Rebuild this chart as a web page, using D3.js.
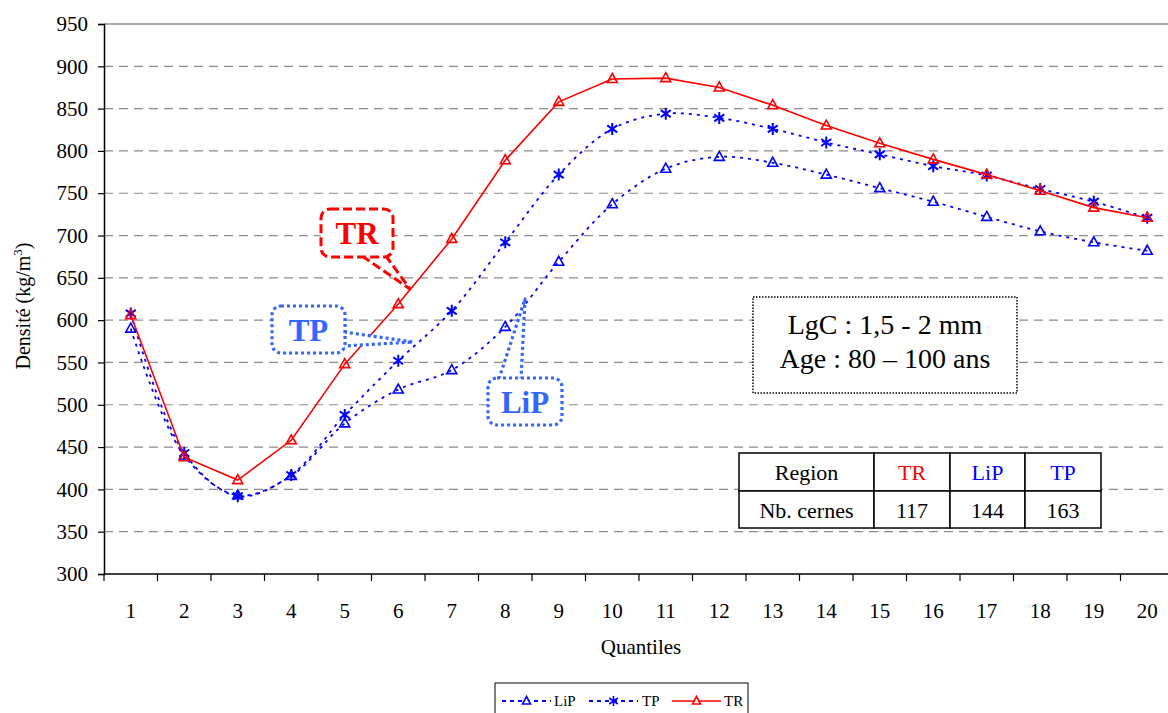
<!DOCTYPE html>
<html>
<head>
<meta charset="utf-8">
<script src="https://cdn.jsdelivr.net/npm/d3@7"></script>
<style>
  html, body { margin: 0; padding: 0; background: #fff; }
  svg text { font-family: 'Liberation Serif', 'Times New Roman', Tinos, 'DejaVu Serif', serif !important; }
</style>
</head>
<body>
<svg id="chart" width="1168" height="713"></svg>
<script>
// ---- Data ----
const categories = ["1","2","3","4","5","6","7","8","9","10","11","12","13","14","15","16","17","18","19","20"];
const seriesLiP = [590, 440, 393, 416, 478, 518, 541, 592, 669, 737, 779, 793, 786, 772, 756, 740, 722, 705, 692, 682];
const seriesTP  = [608, 443, 392, 417, 488, 552, 611, 692, 772, 826, 844, 839, 826, 810, 796, 782, 771, 755, 740, 721];
const seriesTR  = [606, 438, 411, 458, 548, 619, 696, 789, 858, 885, 886, 875, 854, 830, 809, 790, 772, 753, 733, 721];
const yTicks = [300, 350, 400, 450, 500, 550, 600, 650, 700, 750, 800, 850, 900, 950];
const tableHeader = ["Region", "TR", "LiP", "TP"];
const tableRow = ["Nb. cernes", "117", "144", "163"];
const infoLines = ["LgC : 1,5 - 2 mm", "Age : 80 \u2013 100 ans"];

const RED = "#FF0000", BLUE = "#0000FF", CALLBLUE = "#3366FF";
const FONT = "'Liberation Serif', 'Times New Roman', Tinos, 'DejaVu Serif', serif";

const svg = d3.select("#chart").attr("font-family", FONT);
const L = 104, R = 1174, T = 24, B = 574, PR = 1168;

const x = d3.scaleBand().domain(categories).range([L, R]);
const y = d3.scaleLinear().domain([300, 950]).range([B, T]);
const cx = c => x(c) + x.bandwidth() / 2;

// gridlines
svg.append("g").selectAll("line").data(yTicks.filter(v => v > 300 && v < 950)).join("line")
  .attr("x1", L).attr("x2", PR).attr("y1", d => y(d)).attr("y2", d => y(d))
  .attr("stroke", "#8c8c8c").attr("stroke-width", 1.2).attr("stroke-dasharray", "9,6");
// top border
svg.append("line").attr("x1", L).attr("x2", PR).attr("y1", y(950)).attr("y2", y(950))
  .attr("stroke", "#8c8c8c").attr("stroke-width", 1.5);

// Y axis
const yAxis = svg.append("g").attr("transform", `translate(${L},0)`)
  .call(d3.axisLeft(y).tickValues(yTicks).tickSize(6).tickPadding(10).tickFormat(d3.format("d")));
yAxis.attr("font-family", FONT);
yAxis.select(".domain").attr("stroke", "#000").attr("stroke-width", 1.5);
yAxis.selectAll(".tick line").attr("stroke", "#000").attr("stroke-width", 1.2);
yAxis.selectAll("text").attr("font-size", 21).attr("fill", "#000");

// X axis: labels
const xAxis = svg.append("g").attr("transform", `translate(0,${B})`)
  .call(d3.axisBottom(x).tickSize(0).tickPadding(29));
xAxis.attr("font-family", FONT);
xAxis.select(".domain").remove();
xAxis.selectAll("text").attr("font-size", 21).attr("fill", "#000");
// X axis line and boundary ticks
svg.append("line").attr("x1", L).attr("x2", PR).attr("y1", B).attr("y2", B)
  .attr("stroke", "#000").attr("stroke-width", 1.5);
svg.append("g").selectAll("line").data(categories).join("line")
  .attr("x1", d => x(d)).attr("x2", d => x(d)).attr("y1", B).attr("y2", B + 7)
  .attr("stroke", "#000").attr("stroke-width", 1.2);

// axis titles
const yt = svg.append("text").attr("transform", `translate(30,${(T + B) / 2 + 7}) rotate(-90)`)
  .attr("text-anchor", "middle").attr("font-size", 20).attr("fill", "#000");
yt.append("tspan").text("Densit\u00e9 (kg/m");
yt.append("tspan").text("3").attr("font-size", 13).attr("dy", -8);
yt.append("tspan").text(")").attr("dy", 8);

svg.append("text").attr("x", 641).attr("y", 654).attr("text-anchor", "middle")
  .attr("font-size", 21).attr("fill", "#000").text("Quantiles");

// Lines
const series = [
  { name: "LiP", values: seriesLiP, color: BLUE, dash: "3,5", width: 1.8, marker: "tri", curve: d3.curveCatmullRom.alpha(0.5) },
  { name: "TP",  values: seriesTP,  color: BLUE, dash: "3,5", width: 1.8, marker: "ast", curve: d3.curveCatmullRom.alpha(0.5) },
  { name: "TR",  values: seriesTR,  color: RED,  dash: null,  width: 1.6, marker: "tri", curve: d3.curveLinear }
];
const triPath = "M0,-5.5 L5,3.5 L-5,3.5 Z";
const astPath = "M0,-6 L0,6 M-5,-3.5 L5,3.5 M-5,3.5 L5,-3.5";

series.forEach(s => {
  const line = d3.line().x((d, i) => cx(categories[i])).y(d => y(d)).curve(s.curve);
  svg.append("path").datum(s.values).attr("d", line)
    .attr("fill", "none").attr("stroke", s.color).attr("stroke-width", s.width)
    .attr("stroke-dasharray", s.dash);
  svg.append("g").selectAll("path").data(s.values).join("path")
    .attr("transform", (d, i) => `translate(${cx(categories[i])},${y(d)})`)
    .attr("d", s.marker === "tri" ? triPath : astPath)
    .attr("fill", "none")
    .attr("stroke", s.color).attr("stroke-width", s.marker === "tri" ? 1.6 : 2);
});

// Callouts
function callout(box, tail, color, dash, label, width) {
  const g = svg.append("g");
  g.append("path").attr("d", tail).attr("fill", "#fff").attr("stroke", color)
    .attr("stroke-width", width).attr("stroke-dasharray", dash).attr("stroke-linejoin", "round");
  g.append("rect").attr("x", box[0]).attr("y", box[1]).attr("width", box[2]).attr("height", box[3])
    .attr("rx", 9).attr("ry", 9).attr("fill", "#fff").attr("stroke", color)
    .attr("stroke-width", width).attr("stroke-dasharray", dash);
  g.append("text").attr("x", box[0] + box[2] / 2).attr("y", box[1] + box[3] / 2 + 11)
    .attr("text-anchor", "middle").attr("font-size", 31).attr("font-weight", "bold")
    .attr("fill", color).text(label);
}
callout([321, 209, 72, 48], "M362,256 L410,289 L386,256", RED, "9,4", "TR", 3);
callout([272, 306, 73, 47], "M344,332 L413,342 L344,346", CALLBLUE, "3,3", "TP", 3.2);
callout([488, 378, 74, 47], "M499,379 L525,299 L521,379", CALLBLUE, "3,3", "LiP", 3.2);

// Info box
svg.append("rect").attr("x", 753).attr("y", 297).attr("width", 264).attr("height", 96)
  .attr("fill", "#fff").attr("stroke", "#000").attr("stroke-width", 1.5).attr("stroke-dasharray", "1.5,1.5");
svg.append("g").selectAll("text").data(infoLines).join("text")
  .attr("x", 885).attr("y", (d, i) => 334 + i * 34).attr("text-anchor", "middle")
  .attr("font-size", 28).attr("fill", "#000").text(d => d);

// Table
const colX = [739, 874, 950, 1025, 1101];
const rowY = [453, 491, 528];
const tColors = ["#000", RED, BLUE, BLUE];
const tg = svg.append("g");
[tableHeader, tableRow].forEach((row, r) => {
  row.forEach((txt, c) => {
    tg.append("rect").attr("x", colX[c]).attr("y", rowY[r]).attr("width", colX[c + 1] - colX[c])
      .attr("height", rowY[r + 1] - rowY[r]).attr("fill", "#fff").attr("stroke", "#000").attr("stroke-width", 1.5);
    tg.append("text").attr("x", (colX[c] + colX[c + 1]) / 2).attr("y", rowY[r] + 27)
      .attr("text-anchor", "middle").attr("font-size", 22)
      .attr("fill", r === 0 ? tColors[c] : "#000").text(txt);
  });
});

// Legend
const lg = svg.append("g");
lg.append("rect").attr("x", 495).attr("y", 683).attr("width", 253).attr("height", 40)
  .attr("fill", "#fff").attr("stroke", "#000").attr("stroke-width", 1);
const legendItems = [
  { s: series[0], x1: 502, x2: 551, tx: 554 },
  { s: series[1], x1: 589, x2: 638, tx: 642 },
  { s: series[2], x1: 672, x2: 721, tx: 724 }
];
const ly = 701;
legendItems.forEach(it => {
  lg.append("line").attr("x1", it.x1).attr("x2", it.x2).attr("y1", ly).attr("y2", ly)
    .attr("stroke", it.s.color).attr("stroke-width", it.s.width).attr("stroke-dasharray", it.s.dash ? "4,4" : null);
  lg.append("path").attr("transform", `translate(${(it.x1 + it.x2) / 2},${ly})`)
    .attr("d", it.s.marker === "tri" ? "M0,-4.5 L4,3 L-4,3 Z" : "M0,-5 L0,5 M-4.3,-3 L4.3,3 M-4.3,3 L4.3,-3")
    .attr("fill", "#fff").attr("stroke", it.s.color).attr("stroke-width", 1.6);
  lg.append("text").attr("x", it.tx).attr("y", ly + 5).attr("font-size", 15).attr("fill", "#000").text(it.s.name);
});
</script>
</body>
</html>
